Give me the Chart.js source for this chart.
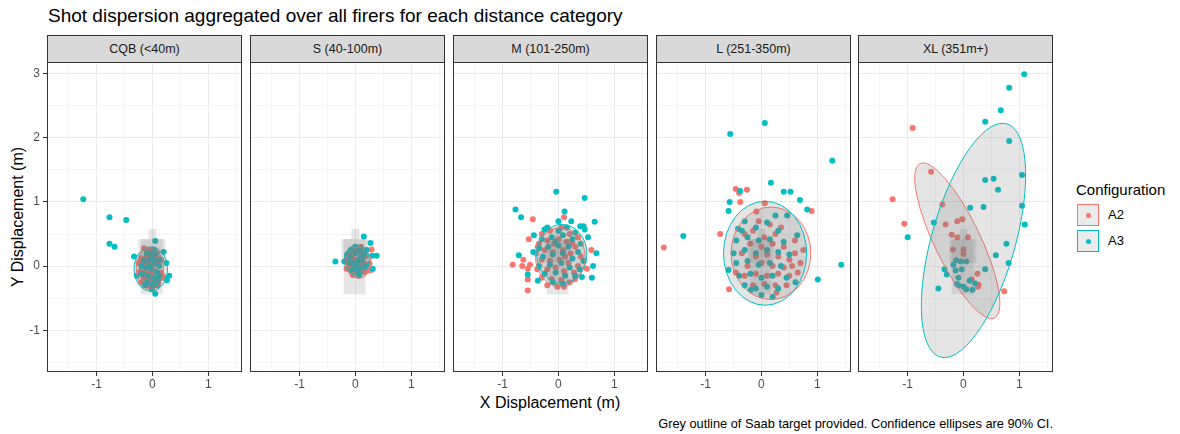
<!DOCTYPE html>
<html>
<head>
<meta charset="utf-8">
<script src="https://cdn.jsdelivr.net/npm/chart.js@4"></script>
<style>
  body { margin: 0; background: #fff; font-family: "Liberation Sans", Arial, sans-serif; }
  #wrap { position: relative; width: 1180px; height: 434px; overflow: hidden; }
  .abs { position: absolute; }
  .strip { position: absolute; top: 35px; height: 28px; width: 195px; box-sizing: border-box;
           background: #d9d9d9; border: 1px solid #333; font-size: 12.5px; color: #1a1a1a;
           text-align: center; line-height: 26px; }
  .frame { position: absolute; top: 62px; height: 310px; width: 195px; box-sizing: border-box;
           border: 1px solid #333; pointer-events: none; }
  .key { position: absolute; left: 1077px; width: 22px; height: 22px; box-sizing: border-box;
         background: #ebebeb; }
  .key span { position: absolute; left: 8px; top: 8px; width: 5px; height: 5px; border-radius: 50%; }
</style>
</head>
<body>
<div id="wrap">
  <div class="abs" style="left:48px;top:5px;font-size:19px;color:#000;">Shot dispersion aggregated over all firers for each distance category</div>
  <div class="abs" style="left:18px;top:217px;transform:translate(-50%,-50%) rotate(-90deg);font-size:16px;white-space:nowrap;">Y Displacement (m)</div>
  <div class="abs" style="left:550px;top:394px;transform:translateX(-50%);font-size:16px;white-space:nowrap;">X Displacement (m)</div>
  <div class="abs" style="right:127px;top:416px;font-size:12.8px;white-space:nowrap;">Grey outline of Saab target provided. Confidence ellipses are 90% CI.</div>
  <div class="abs" style="left:1076px;top:181px;font-size:15px;">Configuration</div>
  <div class="key" style="top:204px;border:1px solid #F8766D;"><span style="background:#F8766D"></span></div>
  <div class="key" style="top:230px;border:1px solid #00BFC4;"><span style="background:#00BFC4"></span></div>
  <div class="abs" style="left:1108px;top:207px;font-size:13px;">A2</div>
  <div class="abs" style="left:1108px;top:233px;font-size:13px;">A3</div>
</div>
<script>
// facet labels and ticks
const categories = ['CQB (<40m)', 'S (40-100m)', 'M (101-250m)', 'L (251-350m)', 'XL (351m+)'];
const xTicks = [-1.5, -1, -0.5, 0, 0.5, 1, 1.5];
const yTicks = [-1.5, -1, -0.5, 0, 0.5, 1, 1.5, 2, 2.5, 3];

// shots [x, y] in metres
const cqbA2 = [[-0.15,0.28],[-0.05,0.25],[0.02,0.2],[-0.2,0.12],[-0.1,0.15],[0.08,0.12],[-0.18,0.02],[-0.08,0.05],[0.0,0.0],[0.1,0.02],
  [-0.22,-0.08],[-0.12,-0.05],[-0.02,-0.1],[0.06,-0.08],[0.15,-0.1],[-0.16,-0.18],[-0.06,-0.2],[0.04,-0.22],[0.12,-0.2],[-0.1,-0.3],
  [0.0,-0.32],[0.1,-0.28],[-0.2,-0.25],[0.18,-0.15],[-0.25,0.05],[0.05,0.15],[-0.12,-0.12],[0.22,-0.19],[-0.03,0.1],[0.13,0.08]];
const cqbA3 = [[-1.24,1.04],[-0.77,0.76],[-0.47,0.72],[-0.77,0.35],[-0.68,0.3],[0.05,0.39],[0.2,0.22],[-0.33,0.15],[0.25,0.05],[0.3,-0.15],
  [-0.28,-0.15],[0.05,-0.43],[0.26,-0.22],[0.03,0.26],[-0.1,0.2],[-0.02,0.18],[0.08,0.2],[-0.15,0.08],[-0.05,0.1],[0.05,0.05],
  [0.12,0.0],[-0.12,-0.02],[-0.02,-0.04],[0.08,-0.1],[-0.18,-0.12],[-0.08,-0.15],[0.02,-0.18],[0.12,-0.15],[-0.1,-0.25],[0.0,-0.28],
  [0.08,-0.3],[-0.05,0.0],[0.15,0.1],[-0.2,0.0],[-0.01,-0.36],[0.1,-0.22],[-0.14,-0.3],[0.03,0.1]];
const sA2 = [[-0.1,0.2],[0.0,0.25],[0.1,0.22],[0.18,0.15],[-0.15,0.1],[-0.05,0.12],[0.05,0.1],[0.15,0.05],[-0.12,0.0],[-0.02,0.02],
  [0.08,0.0],[0.2,-0.02],[-0.08,-0.08],[0.02,-0.1],[0.12,-0.08],[-0.05,-0.14],[0.06,-0.15],[0.25,0.04],[0.28,-0.06],[0.29,0.26],
  [0.24,-0.07],[0.16,-0.09],[-0.16,-0.04],[0.1,0.3]];
const sA3 = [[-0.36,0.07],[0.15,0.46],[0.27,0.36],[0.38,0.16],[0.3,0.16],[0.31,-0.04],[0.07,-0.14],[-0.2,0.07],[-0.1,0.15],[0.0,0.2],
  [0.08,0.25],[0.15,0.18],[-0.05,0.05],[0.05,0.08],[0.12,0.1],[-0.12,0.05],[0.02,0.0],[0.1,-0.02],[-0.05,-0.05],[0.05,-0.08],
  [0.18,0.0],[0.0,0.3],[-0.15,0.18],[0.2,0.25],[-0.08,0.25],[0.1,0.15]];
const mA2 = [[-0.46,0.73],[0.1,0.76],[-0.53,0.42],[-0.82,0.02],[-0.65,0.0],[-0.51,0.02],[-0.63,0.1],[-0.55,-0.04],[0.59,0.25],[0.51,-0.04],
  [-0.55,-0.21],[-0.55,-0.38],[-0.02,-0.32],[0.1,-0.32],[-0.37,0.3],[-0.3,0.5],[-0.15,0.55],[0.05,0.6],[0.2,0.5],[0.35,0.45],
  [-0.35,0.35],[-0.2,0.4],[0.0,0.42],[0.15,0.38],[0.3,0.3],[-0.4,0.2],[-0.25,0.25],[-0.1,0.22],[0.08,0.25],[0.22,0.2],
  [0.4,0.15],[-0.3,0.1],[-0.15,0.08],[0.02,0.1],[0.18,0.05],[0.35,0.0],[-0.38,-0.05],[-0.2,-0.05],[-0.05,-0.02],[0.1,-0.08],
  [0.28,-0.1],[-0.3,-0.18],[-0.12,-0.2],[0.05,-0.22],[0.2,-0.25],[-0.2,-0.3],[0.3,-0.2],[-0.08,0.35],[0.12,0.15],[0.25,0.35]];
const mA3 = [[-0.04,1.16],[0.47,1.06],[-0.77,0.88],[-0.67,0.76],[0.11,0.85],[0.65,0.69],[0.23,0.7],[0.45,0.62],[0.47,0.57],[0.53,0.45],
  [-0.44,0.48],[-0.71,0.17],[0.68,0.2],[0.62,0.0],[0.6,-0.18],[-0.55,-0.13],[-0.37,-0.23],[-0.45,0.22],[-0.25,0.57],[0.42,-0.17],
  [0.39,0.62],[-0.2,0.6],[0.0,0.55],[0.15,0.6],[0.3,0.52],[-0.3,0.42],[-0.12,0.45],[0.08,0.48],[0.25,0.42],[0.4,0.35],
  [-0.35,0.28],[-0.18,0.3],[0.0,0.32],[0.18,0.3],[0.35,0.22],[-0.28,0.15],[-0.1,0.18],[0.08,0.2],[0.25,0.12],[0.45,0.08],
  [-0.35,0.0],[-0.15,0.02],[0.05,0.05],[0.2,-0.02],[0.38,-0.05],[-0.25,-0.12],[-0.05,-0.1],[0.12,-0.15],[0.3,-0.15],[-0.1,-0.25],
  [0.08,-0.28],[0.0,0.7],[-0.05,0.38]];
const lA2 = [[-1.75,0.29],[-0.46,1.2],[-0.4,1.14],[-0.26,1.19],[-0.38,1.0],[0.9,0.86],[-0.74,0.5],[0.06,0.98],[-0.09,0.85],[-0.58,-0.36],
  [-0.46,-0.1],[0.27,-0.41],[-0.3,0.5],[-0.15,0.55],[0.05,0.45],[0.25,0.5],[-0.2,0.35],[0.0,0.3],[0.2,0.35],[0.4,0.3],
  [-0.35,0.2],[-0.1,0.15],[0.1,0.18],[0.3,0.15],[0.5,0.1],[0.6,0.2],[-0.25,0.0],[0.0,0.05],[0.2,0.0],[0.4,-0.02],
  [0.55,0.0],[0.7,0.05],[-0.3,-0.15],[-0.1,-0.12],[0.1,-0.15],[0.3,-0.12],[0.5,-0.15],[0.65,-0.1],[-0.15,-0.3],[0.05,-0.28],
  [0.25,-0.3],[0.45,-0.3],[0.35,0.6],[0.15,0.65],[-0.05,0.7],[0.75,0.25],[0.6,0.4]];
const lA3 = [[0.06,2.23],[-0.56,2.06],[1.27,1.64],[0.17,1.3],[0.4,1.16],[0.52,1.16],[0.69,1.03],[-0.57,1.0],[-0.59,0.86],[0.82,0.88],
  [-1.4,0.47],[1.43,0.02],[1.01,-0.21],[-0.59,-0.06],[-0.38,1.17],[0.25,0.79],[0.46,0.79],[-0.42,0.58],[0.64,0.48],[0.61,-0.25],
  [-0.19,-0.37],[-0.3,0.7],[-0.1,0.6],[0.1,0.68],[0.3,0.55],[-0.45,0.4],[-0.25,0.45],[-0.05,0.4],[0.15,0.42],[0.4,0.38],
  [-0.5,0.2],[-0.3,0.25],[-0.1,0.2],[0.1,0.25],[0.3,0.22],[0.5,0.18],[-0.45,0.05],[-0.25,0.08],[-0.05,0.02],[0.15,0.05],
  [0.35,0.0],[-0.4,-0.15],[-0.2,-0.12],[0.0,-0.18],[0.2,-0.15],[0.45,-0.18],[-0.3,-0.3],[-0.1,-0.35],[0.1,-0.32],[0.3,-0.35],
  [0.0,-0.45],[0.2,-0.48],[-0.35,0.55]];
const xlA2 = [[-0.91,2.15],[-0.58,1.47],[-1.27,1.04],[-1.06,0.66],[-0.38,0.96],[-0.32,0.65],[-0.11,0.7],[-0.02,0.73],[-0.21,0.49],[-0.11,0.45],
  [0.08,0.45],[-0.19,0.26],[0.0,0.26],[0.0,0.19],[0.25,-0.12],[0.15,-0.21],[0.27,-0.29],[0.26,-0.32],[0.73,-0.39]];
const xlA3 = [[1.09,2.99],[0.82,2.78],[0.67,2.43],[0.39,2.25],[0.82,1.95],[1.05,1.42],[0.39,1.34],[0.54,1.36],[0.62,1.19],[0.36,0.92],
  [0.12,0.91],[1.05,0.94],[1.1,0.65],[-0.53,0.68],[-1.0,0.45],[0.77,0.35],[0.58,0.17],[0.81,0.05],[0.39,-0.05],[-0.34,-0.05],
  [-0.3,-0.13],[-0.45,-0.35],[-0.13,0.09],[-0.05,0.07],[0.05,0.07],[-0.18,0.02],[-0.14,-0.07],[-0.03,-0.05],[-0.09,-0.18],[0.11,-0.23],
  [0.21,-0.27],[-0.12,-0.28],[-0.09,-0.3],[0.0,-0.32],[0.05,-0.36],[0.16,-0.37]];

// 90% ellipses per panel: [cx, cy, semi-axis a, semi-axis b, angle deg]
const ellA2 = [[-0.045,-0.04,0.245,0.32,0],[0.06,0.055,0.22,0.245,0],[0.035,0.14,0.445,0.46,0],[0.17,0.2,0.715,0.72,0],[-0.11,0.395,1.375,0.4,119.6]];
const ellA3 = [[-0.03,-0.045,0.3,0.345,0],[0.025,0.095,0.225,0.235,0],[0.06,0.19,0.45,0.46,0],[0.065,0.2,0.745,0.81,0],[0.18,0.4,1.913,0.74,71.1]];
// Saab target outline: [x0, x1, y0, y1]
const target = [[-0.21,0.18,-0.44,0.42],[-0.25,0.23,0.05,0.42],[-0.07,0.07,0.42,0.58]];

const shotsA2 = [cqbA2, sA2, mA2, lA2, xlA2];
const shotsA3 = [cqbA3, sA3, mA3, lA3, xlA3];

const RED = '#F8766D', TEAL = '#00BFC4';
const panelLeft = [47, 250, 453, 656, 858];
const wrap = document.getElementById('wrap');

const overlay = {
  id: 'overlay',
  afterDatasetsDraw(chart, args, opts) {
    const { ctx, chartArea: ca, scales: { x, y } } = chart;
    const sx = x.getPixelForValue(1) - x.getPixelForValue(0);
    const sy = y.getPixelForValue(0) - y.getPixelForValue(1);
    ctx.save();
    ctx.beginPath();
    ctx.rect(ca.left, ca.top, ca.right - ca.left, ca.bottom - ca.top);
    ctx.clip();
    const ells = [[opts.e2, RED], [opts.e3, TEAL]];
    ells.forEach(([e, col]) => {
      ctx.save();
      ctx.translate(x.getPixelForValue(e[0]), y.getPixelForValue(e[1]));
      ctx.scale(sx, -sy);
      ctx.rotate(e[4] * Math.PI / 180);
      ctx.beginPath();
      ctx.ellipse(0, 0, e[2], e[3], 0, 0, Math.PI * 2);
      ctx.restore();
      ctx.fillStyle = 'rgba(127,127,127,0.2)';
      ctx.fill();
      ctx.strokeStyle = col;
      ctx.lineWidth = 1;
      ctx.stroke();
    });
    ctx.fillStyle = 'rgba(127,127,127,0.2)';
    target.forEach(r => {
      const x0 = x.getPixelForValue(r[0]), x1 = x.getPixelForValue(r[1]);
      const y0 = y.getPixelForValue(r[3]), y1 = y.getPixelForValue(r[2]);
      ctx.fillRect(x0, y0, x1 - x0, y1 - y0);
    });
    ctx.restore();
  }
};

const isMajor = v => Number.isInteger(v);

categories.forEach((cat, i) => {
  const yw = i === 0 ? 40 : 0;
  const strip = document.createElement('div');
  strip.className = 'strip';
  strip.style.left = panelLeft[i] + 'px';
  strip.textContent = cat;
  wrap.appendChild(strip);

  const canvas = document.createElement('canvas');
  canvas.width = 195 + yw;
  canvas.height = 310 + 24;
  canvas.style.position = 'absolute';
  canvas.style.left = (panelLeft[i] - yw) + 'px';
  canvas.style.top = '62px';
  wrap.appendChild(canvas);

  const frame = document.createElement('div');
  frame.className = 'frame';
  frame.style.left = panelLeft[i] + 'px';
  wrap.appendChild(frame);

  const gridOpts = {
    color: c => isMajor(c.tick.value) ? '#ebebeb' : '#f5f5f5',
    lineWidth: 1,
    tickColor: c => isMajor(c.tick.value) ? '#333' : 'rgba(0,0,0,0)',
    tickLength: 4
  };

  new Chart(canvas, {
    type: 'scatter',
    data: {
      datasets: [
        { label: 'A2', data: shotsA2[i].map(p => ({ x: p[0], y: p[1] })), backgroundColor: RED, borderWidth: 0, pointRadius: 3, order: 2 },
        { label: 'A3', data: shotsA3[i].map(p => ({ x: p[0], y: p[1] })), backgroundColor: TEAL, borderWidth: 0, pointRadius: 3, order: 1 }
      ]
    },
    options: {
      responsive: false,
      animation: false,
      layout: { padding: 0, autoPadding: false },
      plugins: { legend: { display: false }, tooltip: { enabled: false }, overlay: { e2: ellA2[i], e3: ellA3[i] } },
      scales: {
        x: {
          type: 'linear', min: -1.89, max: 1.605,
          afterBuildTicks: s => { s.ticks = xTicks.map(v => ({ value: v })); },
          afterFit: s => { s.height = 24; s.paddingLeft = 0; s.paddingRight = 0; s.paddingTop = 0; s.paddingBottom = 0; },
          border: { display: false },
          grid: gridOpts,
          ticks: { autoSkip: false, maxRotation: 0, padding: 1, color: '#4d4d4d',
                   font: { family: 'Liberation Sans', size: 12 },
                   callback: v => isMajor(v) ? String(v) : '' }
        },
        y: {
          type: 'linear', min: -1.65, max: 3.18,
          afterBuildTicks: s => { s.ticks = yTicks.map(v => ({ value: v })); },
          afterFit: s => { s.width = yw; s.paddingTop = 0; s.paddingBottom = 0; s.paddingLeft = 0; s.paddingRight = 0; },
          border: { display: false },
          grid: Object.assign({}, gridOpts, { drawTicks: i === 0 }),
          ticks: { display: i === 0, autoSkip: false, padding: 3, color: '#4d4d4d',
                   font: { family: 'Liberation Sans', size: 12 },
                   callback: v => isMajor(v) ? String(v) : '' }
        }
      }
    },
    plugins: [overlay]
  });
});
</script>
</body>
</html>
